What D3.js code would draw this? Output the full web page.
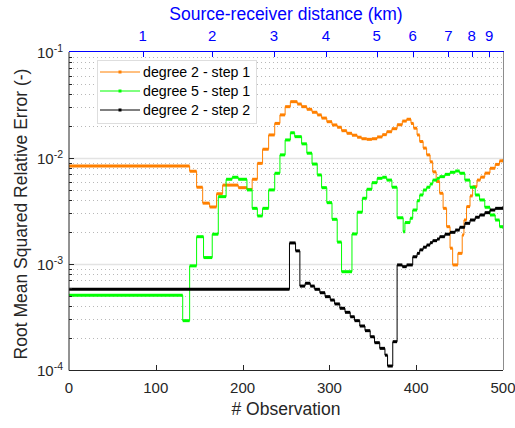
<!DOCTYPE html>
<html>
<head>
<meta charset="utf-8">
<script src="https://d3js.org/d3.v7.min.js"></script>
<style>
  body { margin: 0; background: #fff; }
  svg { font-family: "Liberation Sans", Arial, sans-serif; }
</style>
</head>
<body>
<div id="chart"></div>
<script>
// step starts (# observation) and RMS relative error values
var orangeObs = [0, 139, 147, 154, 162, 170, 177, 195, 205, 211, 217, 223, 230, 237, 243, 249, 255, 263, 268, 274,
    280, 286, 291, 297, 303, 309, 314, 320, 326, 332, 337, 343, 349, 355, 361, 366, 372, 378, 384, 389,
    394, 397, 401, 404, 408, 412, 416, 419, 423, 427, 431, 435, 439, 442, 448, 453, 455, 458, 462, 465,
    470, 474, 479, 485, 491, 496, 500];
var orangeVals = [8.4e-3, 7.5e-3, 5.3e-3, 3.75e-3, 3.45e-3, 4.6e-3, 5.55e-3, 5.25e-3, 5.05e-3, 6.3e-3, 8.9e-3, 1.21e-2, 1.65e-2, 2.12e-2, 2.55e-2, 3.05e-2, 3.4e-2, 3.23e-2, 3.05e-2, 2.88e-2,
    2.7e-2, 2.55e-2, 2.38e-2, 2.2e-2, 2.05e-2, 1.95e-2, 1.81e-2, 1.71e-2, 1.64e-2, 1.57e-2, 1.52e-2, 1.5e-2, 1.52e-2, 1.58e-2, 1.66e-2, 1.77e-2, 1.89e-2, 2.06e-2, 2.23e-2, 2.32e-2,
    2.12e-2, 1.91e-2, 1.65e-2, 1.43e-2, 1.24e-2, 1.07e-2, 9.2e-3, 7.4e-3, 6.0e-3, 4.65e-3, 3.35e-3, 2.25e-3, 1.41e-3, 9.8e-4, 1.26e-3, 1.88e-3, 2.6e-3, 3.48e-3, 4.39e-3, 5.36e-3,
    6.19e-3, 6.6e-3, 7.2e-3, 8.0e-3, 8.7e-3, 9.4e-3, 9.8e-3];

var greenObs = [0, 131, 139, 147, 155, 165, 172, 181, 188, 195, 205, 211, 217, 223, 230, 237, 243, 249, 255, 260,
    268, 274, 280, 286, 291, 297, 303, 309, 314, 326, 332, 338, 343, 349, 355, 361, 366, 372, 378, 385,
    387, 393, 396, 401, 404, 408, 412, 416, 419, 424, 427, 433, 439, 445, 450, 456, 462, 468, 473, 479,
    485, 491, 496, 500];
var greenVals = [5.07e-4, 2.92e-4, 9.6e-4, 1.81e-3, 1.15e-3, 1.91e-3, 4.32e-3, 6.3e-3, 6.58e-3, 6.3e-3, 5.0e-3, 3.35e-3, 2.84e-3, 3.35e-3, 5.0e-3, 7.18e-3, 1.07e-2, 1.48e-2, 1.73e-2, 1.59e-2,
    1.36e-2, 1.11e-2, 8.77e-3, 6.92e-3, 5.25e-3, 3.79e-3, 2.64e-3, 1.61e-3, 8.46e-4, 1.92e-3, 3.08e-3, 4.17e-3, 5.07e-3, 5.85e-3, 6.43e-3, 6.58e-3, 6.19e-3, 5.3e-3, 2.73e-3, 2.02e-3,
    2.46e-3, 2.7e-3, 3.23e-3, 3.95e-3, 4.48e-3, 4.99e-3, 5.3e-3, 5.69e-3, 6.19e-3, 6.43e-3, 6.67e-3, 7.01e-3, 7.33e-3, 7.54e-3, 7.18e-3, 6.19e-3, 5.3e-3, 4.48e-3, 4.02e-3, 3.43e-3,
    2.9e-3, 2.6e-3, 2.25e-3, 2.14e-3];

var blackObs = [0, 254, 261, 266, 272, 278, 283, 289, 295, 301, 306, 312, 318, 324, 329, 335, 341, 347, 352, 358,
    364, 367, 373, 378, 384, 389, 396, 401, 404, 408, 412, 416, 419, 424, 427, 433, 439, 445, 450, 456,
    462, 468, 473, 479, 485, 491, 500];
var blackVals = [5.77e-4, 1.58e-3, 1.33e-3, 6.19e-4, 6.58e-4, 6.19e-4, 5.77e-4, 5.36e-4, 4.92e-4, 4.57e-4, 4.2e-4, 3.82e-4, 3.5e-4, 3.18e-4, 2.92e-4, 2.6e-4, 2.35e-4, 2.06e-4, 1.81e-4, 1.6e-4,
    1.38e-4, 1.09e-4, 1.85e-4, 9.8e-4, 9.44e-4, 9.8e-4, 1.17e-3, 1.26e-3, 1.36e-3, 1.44e-3, 1.51e-3, 1.59e-3, 1.66e-3, 1.72e-3, 1.81e-3, 1.91e-3, 1.99e-3, 2.09e-3, 2.22e-3, 2.42e-3,
    2.6e-3, 2.76e-3, 2.9e-3, 3.05e-3, 3.23e-3, 3.35e-3, 3.52e-3];

var seriesNames = ["degree 2 - step 1", "degree 5 - step 1", "degree 2 - step 2"];

// bottom axis and top (distance) axis
var obsTicks = [0, 100, 200, 300, 400, 500];
var distLabels = [1, 2, 3, 4, 5, 6, 7, 8, 9];
var distTickObs = [85, 165, 236, 296, 354.5, 396, 437, 464, 484];
var yDecades = [-4, -3, -2, -1];

var width = 515, height = 428;
var pLeft = 69, pRight = 503, pTop = 52, pBottom = 370;

var svg = d3.select("#chart").append("svg")
    .attr("width", width)
    .attr("height", height);

var x = d3.scaleLinear().domain([0, 500]).range([pLeft, pRight]);
var y = d3.scaleLog().domain([1e-4, 1e-1]).range([pBottom, pTop]);

// grid
var minorVals = [];
yDecades.slice(0, -1).forEach(function (k) {
    for (var m = 2; m <= 9; m++) minorVals.push(m * Math.pow(10, k));
});
svg.append("g").selectAll("line").data(minorVals).join("line")
    .attr("x1", pLeft).attr("x2", pRight)
    .attr("y1", d => Math.round(y(d)) + 0.5).attr("y2", d => Math.round(y(d)) + 0.5)
    .attr("stroke", "#b8b8b8")
    .attr("stroke-dasharray", "1,3");
svg.append("g").selectAll("line").data([1e-3, 1e-2]).join("line")
    .attr("x1", pLeft).attr("x2", pRight)
    .attr("y1", d => Math.round(y(d)) + 0.5).attr("y2", d => Math.round(y(d)) + 0.5)
    .attr("stroke", "#e3e3e3")
    .attr("stroke-width", 1.5);

svg.append("clipPath").attr("id", "clip")
    .append("rect").attr("x", pLeft).attr("y", pTop).attr("width", pRight - pLeft).attr("height", pBottom - pTop);

var plot = svg.append("g").attr("clip-path", "url(#clip)");

function drawSeries(obs, vals, color) {
    var pts = obs.map((o, i) => [o, vals[i]]);
    plot.append("path")
        .datum(pts)
        .attr("fill", "none")
        .attr("stroke", color)
        .attr("stroke-width", 1)
        .attr("d", d3.line().x(d => x(d[0])).y(d => y(d[1])).curve(d3.curveStepAfter));
    // dense markers make the flat parts look thick
    plot.append("g").selectAll("line")
        .data(pts.slice(0, -1))
        .join("line")
        .attr("x1", d => x(d[0]))
        .attr("x2", (d, i) => x(pts[i + 1][0]))
        .attr("y1", d => y(d[1]))
        .attr("y2", d => y(d[1]))
        .attr("stroke", color)
        .attr("stroke-width", 3);
}

var colors = ["#ff8000", "#00ff00", "#000000"];
drawSeries(orangeObs, orangeVals, colors[0]);
drawSeries(greenObs, greenVals, colors[1]);
drawSeries(blackObs, blackVals, colors[2]);

// axes box
var axisColor = "#262626";
svg.append("line").attr("x1", pLeft).attr("x2", pLeft).attr("y1", pTop).attr("y2", pBottom + 0.5)
    .attr("stroke", axisColor);
svg.append("line").attr("x1", pLeft).attr("x2", pRight).attr("y1", pBottom + 0.5).attr("y2", pBottom + 0.5)
    .attr("stroke", axisColor);
svg.append("line").attr("x1", pRight + 0.5).attr("x2", pRight + 0.5).attr("y1", pTop).attr("y2", pBottom)
    .attr("stroke", "#8c8c8c");

// bottom ticks
var xAxis = svg.append("g");
xAxis.selectAll("line").data(obsTicks.slice(1, -1)).join("line")
    .attr("x1", d => Math.round(x(d)) + 0.5).attr("x2", d => Math.round(x(d)) + 0.5)
    .attr("y1", pBottom).attr("y2", pBottom - 5)
    .attr("stroke", axisColor);
xAxis.selectAll("text").data(obsTicks).join("text")
    .attr("x", d => x(d))
    .attr("y", 393)
    .attr("text-anchor", "middle")
    .attr("font-size", 15)
    .attr("fill", axisColor)
    .text(d => d);
svg.append("text")
    .attr("x", (pLeft + pRight) / 2)
    .attr("y", 415)
    .attr("text-anchor", "middle")
    .attr("font-size", 17.5)
    .attr("fill", axisColor)
    .text("# Observation");

// left ticks
var yAxis = svg.append("g");
yAxis.selectAll("line.minor").data(minorVals).join("line")
    .attr("x1", pLeft).attr("x2", pLeft + 3)
    .attr("y1", d => Math.round(y(d)) + 0.5).attr("y2", d => Math.round(y(d)) + 0.5)
    .attr("stroke", axisColor);
yAxis.selectAll("line.major").data([1e-3, 1e-2]).join("line")
    .attr("x1", pLeft).attr("x2", pLeft + 5)
    .attr("y1", d => Math.round(y(d)) + 0.5).attr("y2", d => Math.round(y(d)) + 0.5)
    .attr("stroke", axisColor);
var yLab = yAxis.selectAll("text").data(yDecades).join("text")
    .attr("x", 63)
    .attr("y", d => y(Math.pow(10, d)) + 6)
    .attr("text-anchor", "end")
    .attr("font-size", 15)
    .attr("fill", axisColor);
yLab.append("tspan").text("10");
yLab.append("tspan").attr("dy", -6).attr("font-size", 10.5).text(d => String(d));
svg.append("text")
    .attr("transform", "translate(27," + ((pTop + pBottom) / 2 + 3) + ") rotate(-90)")
    .attr("text-anchor", "middle")
    .attr("font-size", 17.5)
    .attr("fill", axisColor)
    .text("Root Mean Squared Relative Error (-)");

// top axis: source-receiver distance
var blue = "#0000ff";
var topAxis = svg.append("g");
topAxis.append("line").attr("x1", pLeft).attr("x2", pRight + 1).attr("y1", pTop - 0.5).attr("y2", pTop - 0.5)
    .attr("stroke", blue);
topAxis.selectAll("line.tick").data(distTickObs).join("line")
    .attr("x1", d => Math.round(x(d)) + 0.5).attr("x2", d => Math.round(x(d)) + 0.5)
    .attr("y1", pTop).attr("y2", pTop + 5)
    .attr("stroke", blue);
topAxis.selectAll("text").data(distLabels).join("text")
    .attr("x", (d, i) => x(distTickObs[i]))
    .attr("y", 41)
    .attr("text-anchor", "middle")
    .attr("font-size", 15)
    .attr("fill", blue)
    .text(d => d);
svg.append("text")
    .attr("x", (pLeft + pRight) / 2)
    .attr("y", 20)
    .attr("text-anchor", "middle")
    .attr("font-size", 17.5)
    .attr("fill", blue)
    .text("Source-receiver distance (km)");

// legend
var legend = svg.append("g");
legend.append("rect")
    .attr("x", 97.5).attr("y", 60.5).attr("width", 159).attr("height", 63)
    .attr("fill", "#fff").attr("stroke", "#dedede");
seriesNames.forEach(function (name, i) {
    var ly = 72 + i * 19;
    legend.append("line").attr("x1", 100).attr("x2", 140).attr("y1", ly).attr("y2", ly)
        .attr("stroke", colors[i]).attr("stroke-width", 1);
    legend.append("rect").attr("x", 118.5).attr("y", ly - 1.5).attr("width", 3).attr("height", 3)
        .attr("fill", colors[i]);
    legend.append("text").attr("x", 143).attr("y", ly + 5)
        .attr("font-size", 14.2)
        .attr("fill", "#000")
        .text(name);
});
</script>
</body>
</html>
